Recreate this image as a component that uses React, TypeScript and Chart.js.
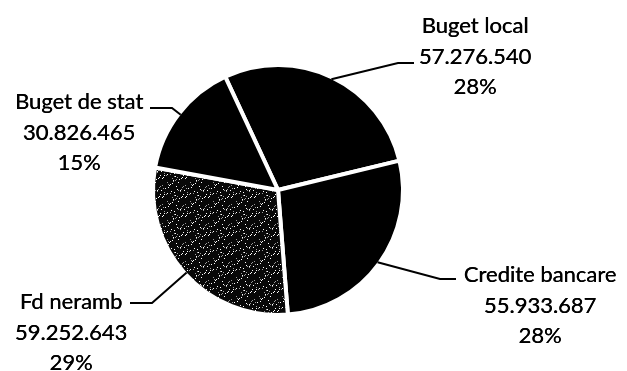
import React, { useEffect, useRef } from "react";
import { Chart, registerables } from "chart.js";

Chart.register(...registerables);

const categories = ["Buget local", "Credite bancare", "Fd neramb", "Buget de stat"];
const amounts = [57276540, 55933687, 59252643, 30826465];

// Layout for the outside labels (text block centre, first line y, leader end point, side)
const labelLayout = [
  { cx: 475, y: 26, endX: 414, endY: 63, side: "left" },
  { cx: 540, y: 275, endX: 456, endY: 279, side: "left" },
  { cx: 71, y: 302, endX: 130, endY: 303, side: "right" },
  { cx: 79, y: 102, endX: 150, endY: 108, side: "right" },
];

const FONT = "22px Lato";
const LINE_H = 30.5;

function fmt(n: number): string {
  const s = String(Math.round(n));
  let out = "";
  for (let i = 0; i < s.length; i++) {
    const fromEnd = s.length - i;
    out += s[i];
    if (fromEnd > 1 && (fromEnd - 1) % 3 === 0) out += ".";
  }
  return out;
}

function makeSpeckle(): CanvasPattern | string {
  const c = document.createElement("canvas");
  c.width = 23;
  c.height = 19;
  const g = c.getContext("2d");
  if (!g) return "#111";
  g.fillStyle = "#080808";
  g.fillRect(0, 0, 23, 19);
  g.fillStyle = "#ffffff";
  for (let y = 0; y < 19; y++) {
    for (let x = 0; x < 23; x++) {
      if ((x * 7 + y * 13 + x * y * 5) % 19 === 0) g.fillRect(x, y, 1, 1);
    }
  }
  g.fillStyle = "#9a9a9a";
  for (let y = 0; y < 19; y++) {
    for (let x = 0; x < 23; x++) {
      if ((x * 11 + y * 5 + x * y) % 23 === 3) g.fillRect(x, y, 1, 1);
    }
  }
  const p = g.createPattern(c, "repeat");
  return p || "#111";
}

const labelPlugin = {
  id: "outerLabels",
  afterDraw(chart: any) {
    const ctx = chart.ctx;
    const meta = chart.getDatasetMeta(0);
    const total = amounts.reduce((a, b) => a + b, 0);
    ctx.save();
    ctx.font = FONT;
    ctx.fillStyle = "#000";
    ctx.textAlign = "center";
    ctx.textBaseline = "middle";
    meta.data.forEach((arc: any, i: number) => {
      const L = labelLayout[i];
      const lines = [categories[i], fmt(amounts[i]), Math.round((amounts[i] / total) * 100) + "%"];
      lines.forEach((t, k) => {
        ctx.fillText(t, L.cx, L.y + k * LINE_H);
        ctx.fillText(t, L.cx + 0.4, L.y + k * LINE_H);
      });
      const { x, y, startAngle, endAngle, outerRadius } = arc.getProps(
        ["x", "y", "startAngle", "endAngle", "outerRadius"],
        true
      );
      const mid = (startAngle + endAngle) / 2;
      const r = outerRadius - 2;
      const px = x + Math.cos(mid) * r;
      const py = y + Math.sin(mid) * r;
      const tail = L.side === "left" ? 16 : -22;
      ctx.beginPath();
      ctx.strokeStyle = "#000";
      ctx.lineWidth = 2;
      ctx.moveTo(px, py);
      ctx.lineTo(L.endX - tail, L.endY);
      ctx.lineTo(L.endX, L.endY);
      ctx.stroke();
    });
    ctx.restore();
  },
};

export default function App() {
  const ref = useRef<HTMLCanvasElement | null>(null);
  useEffect(() => {
    document.body.style.margin = "0";
    if (!ref.current) return;
    const speckle = makeSpeckle();
    const chart = new Chart(ref.current, {
      type: "pie",
      data: {
        labels: categories,
        datasets: [
          {
            data: amounts,
            backgroundColor: ["#000000", "#000000", speckle as any, "#000000"],
            borderColor: "#ffffff",
            borderWidth: 4,
          },
        ],
      },
      options: {
        responsive: false,
        animation: false,
        rotation: -25,
        layout: { padding: { top: 63, bottom: 54, left: 151, right: 222 } },
        plugins: { legend: { display: false }, tooltip: { enabled: false } },
      },
      plugins: [labelPlugin],
    });
    return () => chart.destroy();
  }, []);
  return (
    <div style={{ position: "absolute", left: 0, top: 0, width: 627, height: 371, background: "#fff" }}>
      <canvas ref={ref} width={627} height={371} />
    </div>
  );
}
